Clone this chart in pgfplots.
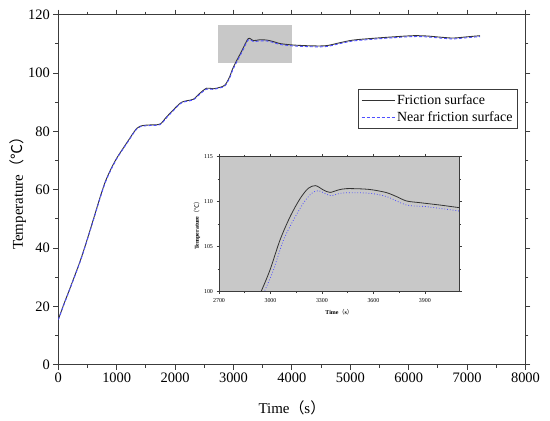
\documentclass[border=0pt]{standalone}
\usepackage{fontspec}
\setmainfont{Liberation Serif}
\newfontfamily\cjk{Noto Sans CJK SC}
\usepackage{pgfplots}
\pgfplotsset{compat=1.18}
\definecolor{fs}{HTML}{333333}
\definecolor{nfs}{HTML}{4F4FFF}
\definecolor{boxgray}{HTML}{C8C8C8}
\definecolor{axc}{HTML}{3C3C3C}
\begin{document}
\begin{tikzpicture}
\useasboundingbox (0,0) rectangle (550bp,421bp);
\begin{axis}[
  at={(58.3bp,56.3bp)}, anchor=south west, scale only axis,
  width=467.2bp, height=350bp,
  xmin=0,xmax=8000,ymin=0,ymax=120,
  xtick distance=1000, ytick distance=20, minor tick num=1,
  tick align=outside,
  major tick length=5bp, minor tick length=3bp,
  axis line style={axc, line width=0.8bp},
  every tick/.style={axc, line width=0.8bp},
  /pgf/number format/assume math mode=true,
  /pgf/number format/1000 sep={},
  tick label style={font=\fontsize{14.5}{16}\selectfont},
  xlabel={Time{\cjk （}s{\cjk ）}},
  ylabel={Temperature{\cjk （℃）}},
  label style={font=\fontsize{15}{17}\selectfont},
  xlabel style={at={(axis description cs:0.5,-0.124)}, anchor=center},
  ylabel style={at={(axis description cs:-0.0863,0.5)}, anchor=center},
  legend style={at={(0.641,0.788)}, anchor=north west, draw=axc, line width=0.8bp,
    fill=white, font=\fontsize{14}{16}\selectfont, inner xsep=3bp, inner ysep=3.5bp, row sep=2bp,
    cells={anchor=west}},
  legend image code/.code={\draw[#1] (0bp,0bp) -- (33bp,0bp);},
]
\addplot[fill=boxgray, draw=none, forget plot] coordinates {(2730,103.5) (4000,103.5) (4000,116.5) (2730,116.5)} -- cycle;
\addplot[fs, line width=0.9bp, smooth] coordinates {
(0,15.5) (100,21) (200,26.2) (372,35.4) (480,42) (600,49.8) (714,57.3) (800,62.5) (885,66.4)
(1000,70.8) (1171,76) (1342,81) (1450,82) (1570,82.2) (1741,82.5) (1856,85) (2084,89.6)
(2200,90.5) (2312,91) (2420,93) (2541,94.8) (2650,94.6) (2769,95.1) (2854,95.9) (2930,98.5)
(2997,102) (3140,107.5) (3253,111.8) (3339,111.1) (3450,111.4) (3568,111.3) (3680,110.8)
(3796,110.1) (4024,109.6) (4366,109.3) (4596,109.4) (4824,110.4) (5051,111.3) (5394,111.9)
(5736,112.4) (6079,112.8) (6308,112.7) (6536,112.3) (6764,112) (6993,112.4) (7221,112.8)};
\addlegendentry{Friction surface}
\addplot[nfs, line width=0.9bp, dash pattern=on 3bp off 2bp, smooth] coordinates {
(0,15.4) (100,20.8) (200,26.0) (372,35.2) (480,41.8) (600,49.5) (714,57.0) (800,62.2) (885,66.1)
(1000,70.6) (1171,75.8) (1342,80.8) (1450,81.8) (1570,82.0) (1741,82.3) (1856,84.7) (2084,89.4)
(2200,90.3) (2312,90.8) (2420,92.7) (2541,94.5) (2650,94.4) (2769,94.9) (2854,95.6) (2930,98.1)
(2997,101.5) (3140,107.0) (3253,111.4) (3339,110.8) (3450,111.0) (3568,111.0) (3680,110.5)
(3796,109.8) (4024,109.3) (4366,109.0) (4596,109.1) (4824,110.1) (5051,111.0) (5394,111.6)
(5736,112.1) (6079,112.5) (6308,112.4) (6536,112.0) (6764,111.7) (6993,112.1) (7221,112.5)};
\addlegendentry{Near friction surface}
\end{axis}
\begin{axis}[
  at={(219bp,129.3bp)}, anchor=south west, scale only axis,
  width=240.3bp, height=135.4bp,
  xmin=2700,xmax=4100,ymin=100,ymax=115,
  xtick={2700,3000,3300,3600,3900}, ytick={100,105,110,115}, minor tick num=1,
  tick align=outside,
  major tick length=2.5bp, minor tick length=1.5bp,
  axis line style={axc, line width=0.6bp},
  every tick/.style={axc, line width=0.5bp},
  axis background/.style={fill=boxgray},
  /pgf/number format/assume math mode=true,
  /pgf/number format/1000 sep={},
  tick label style={font=\fontsize{6}{7}\selectfont},
  xticklabel style={yshift=-1bp},
  xlabel={\textbf{Time}{\cjk （}\textbf{s}{\cjk ）}},
  ylabel={\textbf{Temperature}{\cjk （℃）}},
  label style={font=\fontsize{6}{7}\selectfont},
  xlabel style={at={(axis description cs:0.5,-0.155)}, anchor=center},
  ylabel style={at={(axis description cs:-0.0916,0.5)}, anchor=center},
]
\addplot[fs, line width=0.8bp, smooth] coordinates {
(2920,99) (2945,100) (2997,102.4) (3055,105.7) (3114,108.3) (3172,110.3) (3220,111.45)
(3263,111.75) (3308,111.27) (3347,111.0) (3395,111.27) (3444,111.42) (3541,111.38)
(3599,111.27) (3677,110.97) (3735,110.53) (3793,110.05) (3871,109.86) (3987,109.6) (4100,109.31)};
\addplot[nfs, line width=0.8bp, dotted, smooth] coordinates {
(2940,99) (2964,100) (3017,102.4) (3075,105.7) (3133,107.9) (3191,109.8) (3240,110.9)
(3279,111.19) (3327,110.79) (3356,110.64) (3405,110.9) (3463,110.97) (3580,110.9)
(3677,110.53) (3793,109.6) (3910,109.42) (4100,108.94)};
\end{axis}
\end{tikzpicture}
\end{document}
